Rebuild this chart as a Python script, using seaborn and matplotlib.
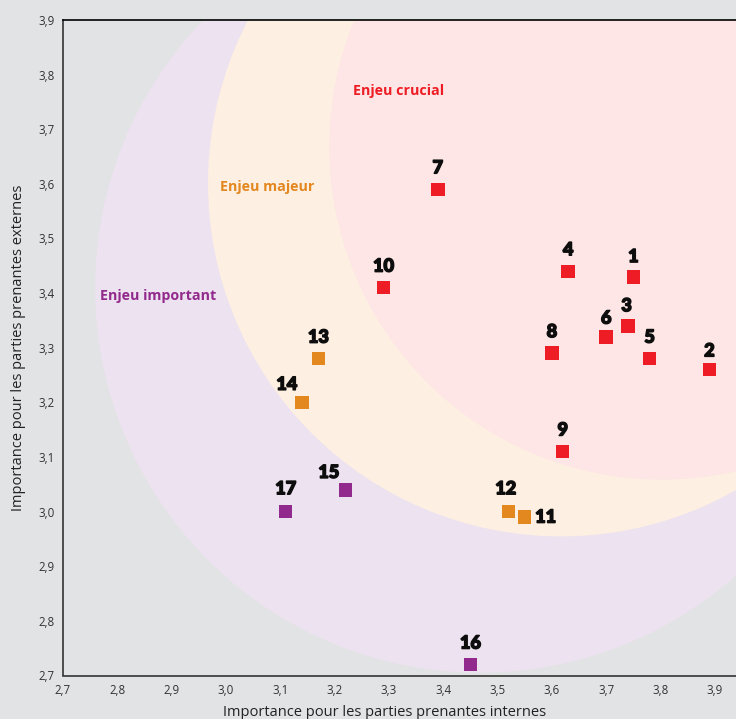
import matplotlib
matplotlib.use("Agg")
import matplotlib.pyplot as plt
from matplotlib.patches import Ellipse
import matplotlib.patheffects as pe
import seaborn as sns
import pandas as pd

# ---- data ----
ids = ["1", "2", "3", "4", "5", "6", "7", "8", "9", "10",
       "11", "12", "13", "14", "15", "16", "17"]
internes = [3.75, 3.89, 3.74, 3.63, 3.78, 3.70, 3.39, 3.60, 3.62, 3.29,
            3.55, 3.52, 3.17, 3.14, 3.22, 3.45, 3.11]
externes = [3.43, 3.26, 3.34, 3.44, 3.28, 3.32, 3.59, 3.29, 3.11, 3.41,
            2.99, 3.00, 3.28, 3.20, 3.04, 2.72, 3.00]
categories = ["Enjeu crucial"] * 10 + ["Enjeu majeur"] * 4 + ["Enjeu important"] * 3

zone_names = ["Enjeu important", "Enjeu majeur", "Enjeu crucial"]
zone_cx = [3.468, 3.617, 3.803]
zone_cy = [3.410, 3.601, 3.668]
zone_r = [0.709, 0.650, 0.613]

tick_values = [2.7, 2.8, 2.9, 3.0, 3.1, 3.2, 3.3, 3.4, 3.5, 3.6, 3.7, 3.8, 3.9]
tick_labels = ["2,7", "2,8", "2,9", "3,0", "3,1", "3,2", "3,3",
               "3,4", "3,5", "3,6", "3,7", "3,8", "3,9"]

x_label = "Importance pour les parties prenantes internes"
y_label = "Importance pour les parties prenantes externes"

# ---- style ----
bg = "#e2e3e5"
marker_colors = {"Enjeu crucial": "#ee1d25", "Enjeu majeur": "#e3871f",
                 "Enjeu important": "#922a8d"}
zone_colors = {"Enjeu important": "#ede2ef", "Enjeu majeur": "#fdf0e2",
               "Enjeu crucial": "#fde6e5"}

sns.set_theme(style="white")
plt.rcParams["font.family"] = ["Open Sans", "DejaVu Sans"]

df = pd.DataFrame({"id": ids, "internes": internes, "externes": externes,
                   "categorie": categories})

fig = plt.figure(figsize=(7.36, 7.19), dpi=100, facecolor=bg)
ax = fig.add_axes([63 / 736, (719 - 675.5) / 719, (736 - 63) / 736, (675.5 - 20) / 719])
ax.set_facecolor(bg)

xmin, xmax = 2.7, 3.939
ymin, ymax = 2.7, 3.9
ax.set_xlim(xmin, xmax)
ax.set_ylim(ymin, ymax)

# pixel scales for circles (keep them round on screen)
bbox = ax.get_position()
w_px = bbox.width * 736
h_px = bbox.height * 719
sx = w_px / (xmax - xmin)
sy = h_px / (ymax - ymin)
for name, cx, cy, r in zip(zone_names, zone_cx, zone_cy, zone_r):
    r_px = r * sx
    ax.add_patch(Ellipse((cx, cy), 2 * r_px / sx, 2 * r_px / sy,
                         facecolor=zone_colors[name], edgecolor="none", zorder=0))

sns.scatterplot(data=df, x="internes", y="externes", hue="categorie",
                palette=marker_colors, marker="s", s=95, linewidth=0,
                legend=False, ax=ax, zorder=3)

offsets = {"11": (15, 0), "14": (-11, 13), "15": (-12, 12.5), "17": (0, 16.5),
           "12": (-2, 16.5), "6": (0, 13.5), "2": (0, 13.5), "3": (-1, 14.5),
           "1": (0, 14.5)}
for i, xv, yv in zip(ids, internes, externes):
    dx, dy = offsets.get(i, (0, 15.5))
    ax.annotate(i, (xv, yv), xytext=(dx, dy), textcoords="offset points",
                ha="center", va="center", fontsize=13, fontweight="black",
                family=["Lato", "DejaVu Sans"], color="#0d0d0d", zorder=4,
                path_effects=[pe.withStroke(linewidth=1.1, foreground="#0d0d0d")])

zone_label_pos = {"Enjeu crucial": (399, 91), "Enjeu majeur": (267, 187),
                  "Enjeu important": (158.5, 296)}
for name, (px, py) in zone_label_pos.items():
    fx = px / 736
    fy = 1 - py / 719
    fig.text(fx, fy, name, ha="center", va="center", fontsize=10.3,
             fontweight="bold", color=marker_colors[name])

ax.set_xticks(tick_values)
ax.set_xticklabels(tick_labels)
ax.set_yticks(tick_values)
ax.set_yticklabels(tick_labels)
ax.tick_params(axis="both", direction="in", length=7, width=1, color="#444444",
               labelsize=8.3, labelcolor="#333333")
ax.tick_params(axis="x", pad=6)
ax.tick_params(axis="y", pad=6)
ax.yaxis.get_major_ticks()[-1].tick1line.set_visible(False)

for s in ["left", "bottom"]:
    ax.spines[s].set_color("#333333")
    ax.spines[s].set_linewidth(1.2)
ax.spines["top"].set_color("#000000")
ax.spines["top"].set_linewidth(1.2)
ax.spines["right"].set_visible(False)

ax.set_xlabel(x_label, fontsize=10.5, color="#222222")
ax.set_ylabel(y_label, fontsize=10.5, color="#222222")
ax.xaxis.set_label_coords((384.5 - 63) / 673, -(712 - 675.5) / 655.5)
ax.yaxis.set_label_coords(-(63 - 18.5) / 673, 0.5)
ax.xaxis.label.set_va("center")
ax.yaxis.label.set_va("center")

fig.savefig("out.png", dpi=100, facecolor=bg)
